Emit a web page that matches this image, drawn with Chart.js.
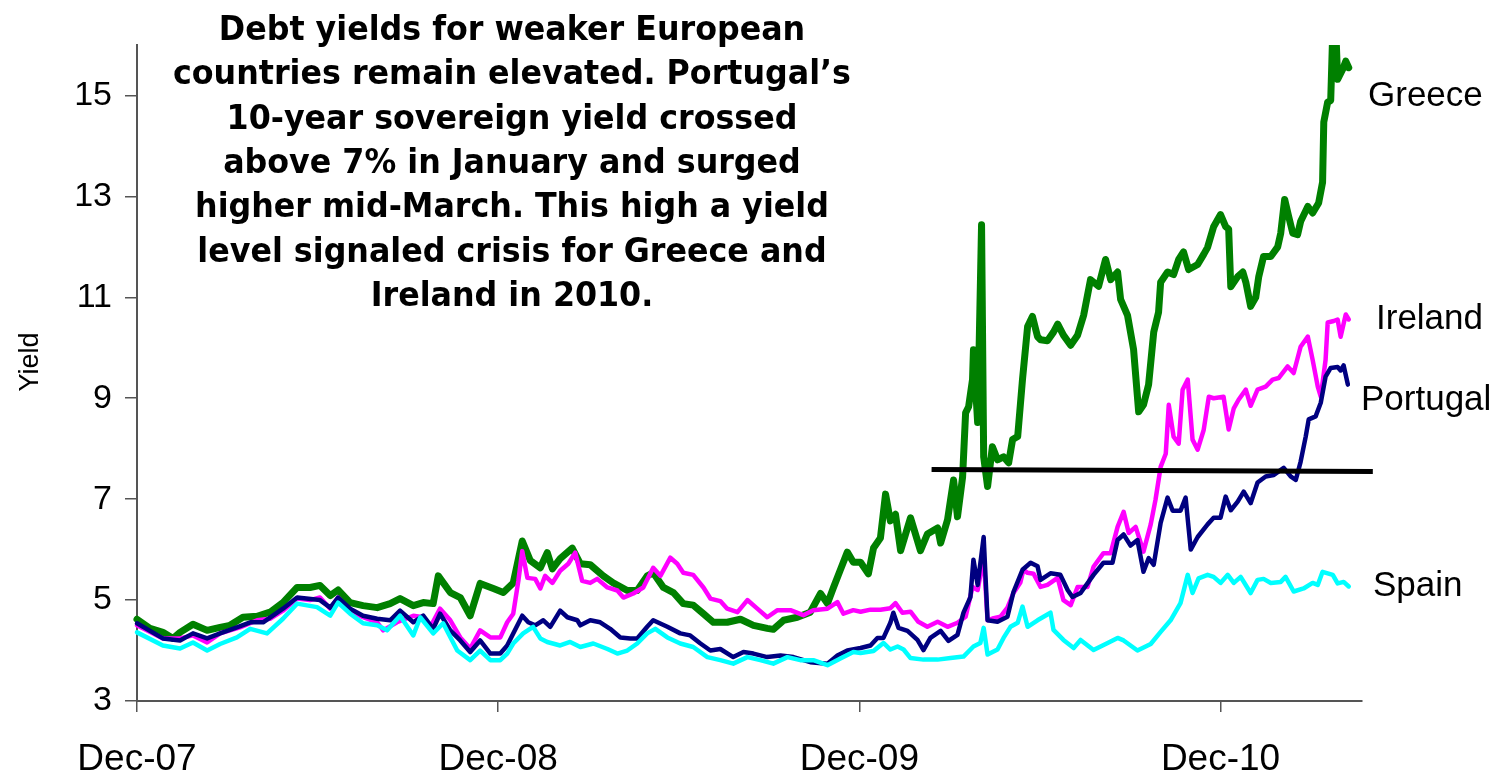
<!DOCTYPE html>
<html>
<head>
<meta charset="utf-8">
<script src="https://cdn.jsdelivr.net/npm/chart.js@4.4.1/dist/chart.umd.min.js"></script>
<style>
  html, body { margin: 0; padding: 0; background: #ffffff; }
  #wrap { width: 1497px; height: 776px; }
</style>
</head>
<body>
<div id="wrap"><canvas id="chart" width="1497" height="776"></canvas></div>
<script>
// time axis is in months after Dec-07
var xTickValues = [0, 12, 24, 36];
var xTickLabels = ['Dec-07', 'Dec-08', 'Dec-09', 'Dec-10'];
var yTickValues = [3, 5, 7, 9, 11, 13, 15];

var greeceT = [0, 0.43, 0.86, 1.20, 1.43, 1.86, 2.33, 2.76, 3.09, 3.52, 3.99, 4.42, 4.85, 5.32, 5.75, 6.08, 6.42, 6.68, 7.08, 7.51,
    7.98, 8.41, 8.74, 9.18, 9.51, 9.84, 10.01, 10.41, 10.74, 11.07, 11.40, 11.84, 12.17, 12.50, 12.80, 13.07, 13.40, 13.63, 13.80, 14.06,
    14.46, 14.73, 15.06, 15.49, 15.82, 16.29, 16.62, 16.95, 17.15, 17.49, 17.82, 18.15, 18.48, 18.82, 19.15, 19.61, 20.05, 20.48, 20.94, 21.14,
    21.48, 21.94, 22.37, 22.71, 22.94, 23.14, 23.37, 23.60, 23.80, 24.04, 24.30, 24.47, 24.70, 24.87, 25.03, 25.20, 25.37, 25.70, 26.03, 26.26,
    26.60, 26.70, 26.93, 27.03, 27.13, 27.26, 27.43, 27.53, 27.63, 27.76, 27.79, 27.93, 28.06, 28.13, 28.26, 28.42, 28.59, 28.79, 28.96, 29.09,
    29.26, 29.42, 29.59, 29.75, 29.92, 30.02, 30.25, 30.45, 30.59, 30.78, 31.02, 31.25, 31.45, 31.68, 31.95, 32.18, 32.35, 32.58, 32.68, 32.91,
    33.11, 33.28, 33.44, 33.61, 33.78, 33.94, 34.01, 34.24, 34.44, 34.61, 34.77, 34.94, 35.24, 35.44, 35.57, 35.77, 36.00, 36.17, 36.27, 36.34,
    36.57, 36.74, 36.84, 37.00, 37.17, 37.27, 37.43, 37.67, 37.90, 38.00, 38.13, 38.26, 38.40, 38.56, 38.66, 38.90, 39.06, 39.26, 39.39, 39.43,
    39.56, 39.66, 39.73, 39.83, 39.89, 40.06, 40.16, 40.26];
var greeceY = [4.62, 4.44, 4.36, 4.24, 4.36, 4.52, 4.40, 4.46, 4.50, 4.66, 4.68, 4.76, 4.95, 5.25, 5.25, 5.29, 5.09, 5.20, 4.95, 4.89,
    4.85, 4.93, 5.03, 4.89, 4.95, 4.93, 5.48, 5.15, 5.05, 4.69, 5.33, 5.23, 5.15, 5.34, 6.17, 5.78, 5.64, 5.94, 5.62, 5.82,
    6.03, 5.72, 5.70, 5.48, 5.34, 5.19, 5.19, 5.48, 5.54, 5.25, 5.15, 4.93, 4.90, 4.73, 4.56, 4.56, 4.62, 4.50, 4.44, 4.42,
    4.60, 4.66, 4.76, 5.13, 4.93, 5.25, 5.60, 5.95, 5.75, 5.75, 5.52, 6.03, 6.23, 7.10, 6.57, 6.70, 5.98, 6.63, 5.98, 6.31,
    6.43, 6.13, 6.59, 6.99, 7.38, 6.65, 7.44, 8.71, 8.83, 9.37, 9.96, 8.52, 12.44, 7.84, 7.25, 8.04, 7.78, 7.84, 7.72, 8.18,
    8.24, 9.37, 10.42, 10.62, 10.22, 10.16, 10.14, 10.31, 10.47, 10.25, 10.05, 10.25, 10.64, 11.35, 11.22, 11.75, 11.35, 11.50, 10.96, 10.64,
    9.97, 8.73, 8.87, 9.27, 10.31, 10.70, 11.30, 11.50, 11.45, 11.75, 11.90, 11.55, 11.65, 11.85, 11.99, 12.40, 12.64, 12.40, 12.35, 11.21,
    11.41, 11.50, 11.30, 10.82, 11.00, 11.41, 11.81, 11.81, 12.00, 12.27, 12.94, 12.61, 12.27, 12.24, 12.50, 12.80, 12.67, 12.87, 13.28, 14.47,
    14.87, 14.90, 16.30, 16.30, 15.32, 15.52, 15.68, 15.55];

var irelandT = [0, 0.86, 1.43, 1.86, 2.33, 2.76, 3.42, 3.99, 4.42, 4.85, 5.32, 5.75, 6.08, 6.42, 6.68, 7.08, 7.51, 7.98, 8.18, 8.64,
    9.18, 9.51, 9.74, 10.07, 10.41, 10.74, 11.07, 11.40, 11.74, 12.07, 12.30, 12.50, 12.67, 12.80, 12.97, 13.23, 13.40, 13.56, 13.80, 14.06,
    14.33, 14.56, 14.79, 15.06, 15.29, 15.63, 15.96, 16.16, 16.49, 16.82, 17.15, 17.39, 17.72, 17.95, 18.15, 18.48, 18.82, 19.05, 19.38, 19.61,
    19.95, 20.28, 20.61, 20.94, 21.28, 21.71, 22.14, 22.47, 22.94, 23.27, 23.47, 23.80, 24.04, 24.37, 24.70, 25.03, 25.20, 25.43, 25.70, 25.96,
    26.26, 26.60, 26.93, 27.26, 27.53, 27.76, 27.93, 28.13, 28.26, 28.46, 28.69, 28.92, 29.12, 29.35, 29.45, 29.59, 29.79, 30.02, 30.25, 30.59,
    30.78, 31.02, 31.25, 31.58, 31.78, 32.11, 32.35, 32.58, 32.78, 32.95, 33.18, 33.44, 33.68, 33.84, 34.01, 34.18, 34.28, 34.44, 34.61, 34.74,
    34.91, 35.07, 35.24, 35.44, 35.61, 35.77, 36.10, 36.27, 36.44, 36.60, 36.84, 37.00, 37.23, 37.50, 37.73, 37.93, 38.23, 38.43, 38.66, 38.90,
    39.06, 39.23, 39.33, 39.49, 39.56, 39.76, 39.89, 39.99, 40.16, 40.26];
var irelandY = [4.50, 4.24, 4.24, 4.30, 4.16, 4.34, 4.46, 4.60, 4.63, 4.79, 5.03, 5.00, 5.05, 4.83, 5.05, 4.79, 4.66, 4.56, 4.40, 4.56,
    4.69, 4.66, 4.46, 4.83, 4.60, 4.26, 4.04, 4.40, 4.26, 4.26, 4.56, 4.73, 5.38, 5.97, 5.44, 5.42, 5.23, 5.48, 5.34, 5.58,
    5.72, 5.94, 5.38, 5.34, 5.42, 5.25, 5.19, 5.05, 5.13, 5.25, 5.64, 5.48, 5.84, 5.72, 5.54, 5.50, 5.25, 5.03, 4.98, 4.83,
    4.76, 5.00, 4.83, 4.66, 4.80, 4.80, 4.70, 4.80, 4.83, 4.96, 4.73, 4.80, 4.77, 4.81, 4.81, 4.84, 4.94, 4.75, 4.77, 4.57,
    4.47, 4.57, 4.47, 4.55, 4.67, 5.26, 5.20, 5.86, 4.60, 4.64, 4.67, 4.85, 5.14, 5.35, 5.60, 5.54, 5.52, 5.26, 5.30, 5.44,
    5.00, 4.90, 5.26, 5.26, 5.66, 5.93, 5.93, 6.45, 6.75, 6.33, 6.45, 5.96, 6.50, 6.99, 7.64, 7.90, 8.87, 8.24, 8.10, 9.17,
    9.37, 8.18, 7.98, 8.37, 9.03, 9.00, 9.03, 8.38, 8.80, 8.97, 9.17, 8.85, 9.17, 9.23, 9.37, 9.40, 9.63, 9.50, 10.02, 10.22,
    9.76, 9.23, 9.03, 9.76, 10.50, 10.53, 10.56, 10.22, 10.66, 10.56];

var portugalT = [0, 0.86, 1.43, 1.86, 2.33, 2.76, 3.32, 3.76, 4.19, 4.85, 5.32, 6.08, 6.42, 6.68, 7.08, 7.51, 7.98, 8.41, 8.74, 9.18,
    9.51, 9.84, 10.07, 10.41, 10.74, 11.07, 11.40, 11.74, 12.07, 12.30, 12.50, 12.80, 13.00, 13.23, 13.50, 13.73, 14.06, 14.30, 14.63, 14.73,
    15.06, 15.39, 15.72, 16.06, 16.39, 16.62, 16.95, 17.15, 17.62, 18.05, 18.38, 18.72, 19.05, 19.38, 19.81, 20.15, 20.48, 20.94, 21.38, 21.81,
    22.37, 22.94, 23.27, 23.60, 24.04, 24.37, 24.60, 24.80, 25.03, 25.13, 25.30, 25.60, 25.93, 26.13, 26.36, 26.70, 26.96, 27.26, 27.46, 27.69,
    27.79, 27.93, 28.13, 28.26, 28.59, 28.92, 29.12, 29.42, 29.69, 29.92, 30.02, 30.35, 30.68, 30.92, 31.08, 31.35, 31.78, 32.11, 32.41, 32.58,
    32.78, 33.01, 33.24, 33.44, 33.61, 33.78, 34.01, 34.24, 34.41, 34.67, 34.84, 35.01, 35.24, 35.57, 35.77, 36.00, 36.17, 36.34, 36.57, 36.77,
    37.00, 37.23, 37.50, 37.77, 38.10, 38.33, 38.50, 38.66, 38.83, 38.93, 39.16, 39.33, 39.49, 39.66, 39.89, 39.99, 40.09, 40.23];
var portugalY = [4.54, 4.24, 4.20, 4.34, 4.24, 4.34, 4.46, 4.56, 4.56, 4.83, 5.05, 5.00, 4.85, 5.05, 4.83, 4.69, 4.63, 4.60, 4.79, 4.56,
    4.69, 4.43, 4.73, 4.40, 4.20, 3.97, 4.20, 3.94, 3.94, 4.10, 4.34, 4.69, 4.56, 4.50, 4.60, 4.47, 4.79, 4.66, 4.60, 4.50,
    4.60, 4.56, 4.43, 4.26, 4.24, 4.24, 4.47, 4.60, 4.47, 4.34, 4.30, 4.14, 4.00, 4.03, 3.87, 3.97, 3.94, 3.87, 3.90, 3.87,
    3.77, 3.74, 3.90, 4.00, 4.05, 4.10, 4.25, 4.25, 4.55, 4.75, 4.45, 4.39, 4.21, 4.01, 4.25, 4.39, 4.19, 4.31, 4.75, 5.06,
    5.80, 5.30, 6.25, 4.60, 4.57, 4.67, 5.16, 5.60, 5.74, 5.67, 5.40, 5.53, 5.50, 5.20, 5.06, 5.14, 5.50, 5.74, 5.74, 6.19,
    6.30, 6.08, 6.19, 5.56, 5.83, 5.70, 6.53, 7.03, 6.77, 6.77, 7.03, 6.00, 6.25, 6.50, 6.63, 6.63, 7.05, 6.78, 6.95, 7.15,
    6.92, 7.33, 7.45, 7.48, 7.62, 7.45, 7.38, 7.74, 8.24, 8.58, 8.64, 8.91, 9.43, 9.60, 9.62, 9.55, 9.65, 9.27];

var spainT = [0, 0.86, 1.43, 1.86, 2.33, 2.76, 3.32, 3.76, 4.32, 4.85, 5.32, 5.98, 6.42, 6.68, 7.08, 7.51, 7.98, 8.31, 8.74, 9.18,
    9.41, 9.84, 10.17, 10.64, 11.07, 11.40, 11.74, 12.07, 12.30, 12.50, 12.83, 13.16, 13.40, 13.63, 14.06, 14.39, 14.73, 15.16, 15.63, 15.96,
    16.29, 16.62, 16.95, 17.22, 17.62, 18.05, 18.48, 18.95, 19.38, 19.81, 20.28, 20.71, 21.14, 21.61, 22.04, 22.47, 22.94, 23.37, 23.80, 24.04,
    24.47, 24.80, 25.03, 25.27, 25.47, 25.70, 26.13, 26.60, 27.03, 27.46, 27.79, 28.02, 28.13, 28.26, 28.59, 28.79, 29.02, 29.26, 29.42, 29.59,
    29.92, 30.12, 30.35, 30.45, 30.78, 31.12, 31.35, 31.78, 32.25, 32.58, 32.78, 33.24, 33.68, 34.01, 34.34, 34.67, 34.91, 35.07, 35.27, 35.57,
    35.77, 36.00, 36.24, 36.44, 36.67, 37.00, 37.23, 37.43, 37.67, 38.00, 38.16, 38.43, 38.76, 39.06, 39.23, 39.39, 39.73, 39.89, 40.09, 40.26];
var spainY = [4.36, 4.10, 4.04, 4.16, 4.00, 4.13, 4.26, 4.43, 4.34, 4.63, 4.93, 4.86, 4.69, 4.95, 4.73, 4.54, 4.50, 4.40, 4.69, 4.30,
    4.66, 4.34, 4.54, 4.00, 3.81, 4.00, 3.81, 3.81, 3.94, 4.14, 4.34, 4.47, 4.24, 4.17, 4.10, 4.17, 4.07, 4.14, 4.03, 3.94,
    4.00, 4.14, 4.34, 4.43, 4.26, 4.14, 4.07, 3.87, 3.81, 3.74, 3.87, 3.81, 3.74, 3.87, 3.81, 3.81, 3.71, 3.84, 3.97, 3.95,
    3.99, 4.15, 4.02, 4.08, 4.02, 3.85, 3.82, 3.82, 3.85, 3.88, 4.08, 4.15, 4.45, 3.92, 4.02, 4.25, 4.47, 4.55, 4.87, 4.47,
    4.60, 4.67, 4.75, 4.41, 4.21, 4.05, 4.21, 4.01, 4.15, 4.25, 4.20, 4.00, 4.13, 4.37, 4.60, 4.94, 5.50, 5.14, 5.43, 5.50,
    5.46, 5.34, 5.50, 5.34, 5.46, 5.14, 5.40, 5.42, 5.34, 5.36, 5.46, 5.17, 5.23, 5.34, 5.30, 5.56, 5.50, 5.33, 5.36, 5.27];

// the 7.5% reference line drawn across 2010-11
var refLineT = [26.4, 41.06];
var refLineY = [7.59, 7.55];

// country names at the right end, placed at these yields
var seriesNames = ['Greece', 'Ireland', 'Portugal', 'Spain'];
var seriesNameY = [15.02, 10.6, 9.0, 5.32];
var seriesNameX = [1368, 1376, 1361, 1373];

var noteLines = [
    'Debt yields for weaker European',
    'countries remain elevated. Portugal\u2019s',
    '10-year sovereign yield crossed',
    'above 7% in January and surged',
    'higher mid-March. This high a yield',
    'level signaled crisis for Greece and',
    'Ireland in 2010.'
];

function toPoints(ts, ys) {
    var pts = [];
    for (var i = 0; i < ts.length; i++) {
        pts.push({ x: ts[i], y: ys[i] });
    }
    return pts;
}

function series(label, ts, ys, color, width, order) {
    return {
        label: label,
        data: toPoints(ts, ys),
        borderColor: color,
        backgroundColor: color,
        borderWidth: width,
        pointRadius: 0,
        tension: 0,
        borderJoinStyle: 'round',
        borderCapStyle: 'round',
        clip: { left: 4, top: 0, right: 20, bottom: 4 },
        order: order
    };
}

var notesPlugin = {
    id: 'notes',
    afterDatasetsDraw: function (chart) {
        var ctx = chart.ctx;
        var yScale = chart.scales.y;

        ctx.save();
        ctx.fillStyle = '#000000';

        // commentary block, squeezed to the width of the original lettering
        ctx.font = 'bold 34px "DejaVu Sans"';
        ctx.textAlign = 'center';
        ctx.textBaseline = 'alphabetic';
        var sx = 678 / ctx.measureText(noteLines[1]).width;
        for (var i = 0; i < noteLines.length; i++) {
            ctx.save();
            ctx.translate(512, 40 + i * 44.3);
            ctx.scale(sx, 1);
            ctx.fillText(noteLines[i], 0, 0);
            ctx.restore();
        }

        // country names
        ctx.font = '35px "Liberation Sans"';
        ctx.textAlign = 'left';
        ctx.textBaseline = 'middle';
        for (var j = 0; j < seriesNames.length; j++) {
            ctx.fillText(seriesNames[j], seriesNameX[j], yScale.getPixelForValue(seriesNameY[j]) + 2);
        }

        // axis title
        ctx.translate(31, 362);
        ctx.rotate(-Math.PI / 2);
        ctx.textAlign = 'center';
        ctx.font = '27px "Liberation Sans"';
        ctx.fillText('Yield', 0, 0);
        ctx.restore();
    }
};

var ctx = document.getElementById('chart').getContext('2d');
var chart = new Chart(ctx, {
    type: 'line',
    data: {
        datasets: [
            {
                label: 'ref',
                data: toPoints(refLineT, refLineY),
                borderColor: '#000000',
                borderWidth: 5,
                pointRadius: 0,
                clip: false,
                order: 0
            },
            series('Spain', spainT, spainY, '#00FFFF', 4.5, 1),
            series('Portugal', portugalT, portugalY, '#000080', 4.5, 2),
            series('Ireland', irelandT, irelandY, '#FF00FF', 4.5, 3),
            series('Greece', greeceT, greeceY, '#008000', 7, 4)
        ]
    },
    options: {
        responsive: false,
        animation: false,
        layout: { padding: { top: 45, right: 135, left: 0, bottom: 0 } },
        plugins: {
            legend: { display: false },
            tooltip: { enabled: false }
        },
        scales: {
            x: {
                type: 'linear',
                min: 0,
                max: 40.7,
                afterBuildTicks: function (axis) {
                    axis.ticks = xTickValues.map(function (v) { return { value: v }; });
                },
                afterFit: function (axis) {
                    axis.height = 75;
                },
                ticks: {
                    autoSkip: false,
                    maxRotation: 0,
                    padding: 26,
                    color: '#000000',
                    font: { family: '"Liberation Sans"', size: 37 },
                    callback: function (value) {
                        var idx = xTickValues.indexOf(value);
                        return idx >= 0 ? xTickLabels[idx] : '';
                    }
                },
                grid: {
                    drawOnChartArea: false,
                    tickLength: 11,
                    tickColor: '#555555',
                    lineWidth: 1.5
                },
                border: { display: true, color: '#555555', width: 2 }
            },
            y: {
                min: 3,
                max: 16,
                afterBuildTicks: function (axis) {
                    axis.ticks = yTickValues.map(function (v) { return { value: v }; });
                },
                afterFit: function (axis) {
                    axis.width = 137;
                },
                ticks: {
                    padding: 13,
                    color: '#000000',
                    font: { family: '"Liberation Sans"', size: 34 }
                },
                grid: {
                    drawOnChartArea: false,
                    tickLength: 12,
                    tickColor: '#555555',
                    lineWidth: 1.5
                },
                border: { display: true, color: '#555555', width: 2 }
            }
        }
    },
    plugins: [notesPlugin]
});
</script>
</body>
</html>
